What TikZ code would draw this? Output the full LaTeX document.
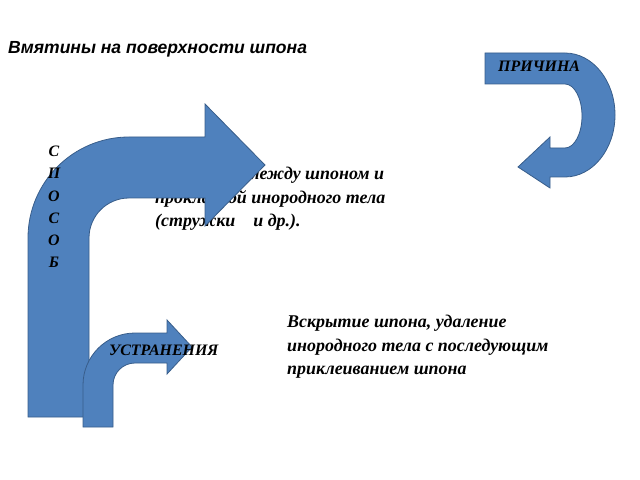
\documentclass[tikz,border=0pt]{standalone}
\usepackage{fontspec}
\setmainfont{Liberation Serif}
\newfontfamily\arialf{Liberation Sans}
\definecolor{arrfill}{HTML}{4F81BD}
\definecolor{arrline}{HTML}{385D8A}
\begin{document}
\begin{tikzpicture}[x=1bp,y=-1bp,
  arrowshape/.style={fill=arrfill,draw=arrline,line width=0.8bp,line join=miter},
  bodytext/.style={font=\fontsize{18}{23.5}\selectfont\bfseries\itshape,inner sep=0,anchor=base west},
  captext/.style={font=\fontsize{16}{22.3}\selectfont\bfseries\itshape,inner sep=0},
  titletext/.style={font=\arialf\fontsize{17.6}{20}\selectfont\bfseries\itshape,inner sep=0,anchor=base west}]
\useasboundingbox (0,0) rectangle (640,480);

% title
\node[titletext] (title) at (8,54) {Вмятины на поверхности шпона};

% middle text (partly hidden under big arrow)
\node[bodytext] (m1) at (155,180) {Попадание между шпоном и};
\node[bodytext] (m2) at (155,204) {прокладкой инородного тела};
\node[bodytext] (m3) at (155,227) {(стружки~~~~и др.).};

% big bent arrow
\path[arrowshape] (28,417) -- (28,238) arc[start angle=180,end angle=270,radius=101]
  -- (205,137) -- (205,104) -- (265,165) -- (205,226) -- (205,198) -- (129,198)
  arc[start angle=270,end angle=180,radius=40] -- (89,417) -- cycle;

% small bent arrow
\path[arrowshape] (83,427) -- (83,385) arc[start angle=180,end angle=270,radius=52]
  -- (167,333) -- (167,320) -- (192,347) -- (167,374) -- (167,363) -- (135,363)
  arc[start angle=270,end angle=180,radius=22] -- (113,427) -- cycle;

% U-turn arrow
\path[arrowshape] (485,53) -- (565,53) arc[start angle=270,end angle=450,x radius=50,y radius=62]
  -- (550,177) -- (550,188) -- (518,167) -- (550,137) -- (550,148) -- (565,148)
  arc[start angle=90,end angle=-90,x radius=17,y radius=32] -- (485,84) -- cycle;

% labels
\node[captext,anchor=base west] (prichina) at (498,72) {ПРИЧИНА};
\node[captext,anchor=north,align=center] (sposob) at (54,146) {С\\П\\О\\С\\О\\Б};
\node[captext,anchor=base west] (ustr) at (109,355) {УСТРАНЕНИЯ};

% right text
\node[bodytext] (r1) at (287,327) {Вскрытие шпона, удаление};
\node[bodytext] (r2) at (287,351) {инородного тела с последующим};
\node[bodytext] (r3) at (287,374) {приклеиванием шпона};
\end{tikzpicture}
\end{document}
